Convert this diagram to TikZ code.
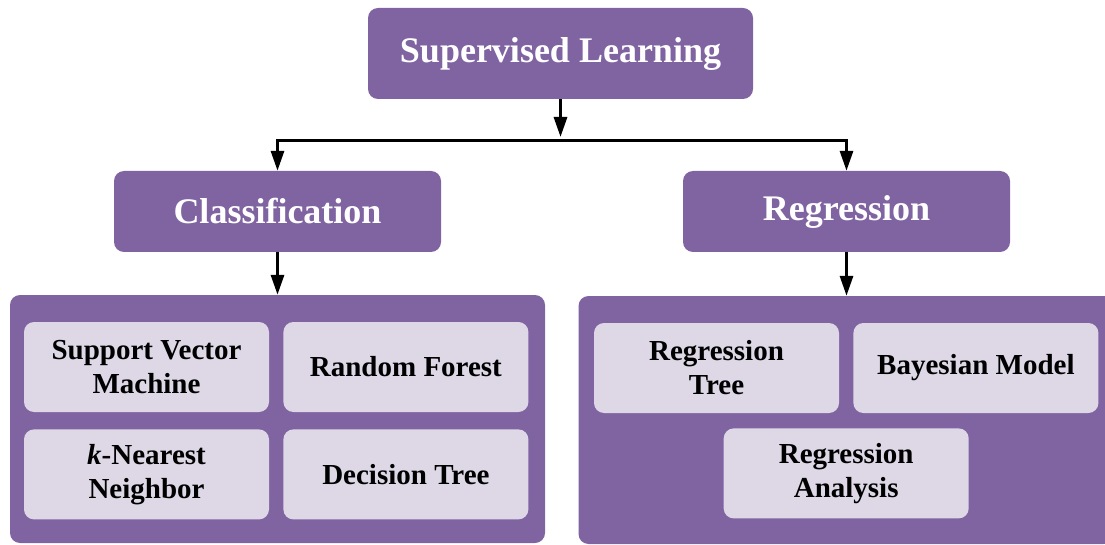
\documentclass[tikz,border=0pt]{standalone}
\usepackage{fontspec}
\setmainfont{Liberation Serif}
\usetikzlibrary{arrows.meta,positioning}
\definecolor{plum}{RGB}{128,100,162}
\definecolor{lilac}{RGB}{221,215,230}
\tikzstyle{topbox} = [fill=plum, rounded corners=10pt, text=white,
    minimum width=385pt, minimum height=91pt, font=\fontsize{36}{40}\selectfont\bfseries]
\tikzstyle{catbox} = [fill=plum, rounded corners=10pt, text=white,
    minimum width=327pt, minimum height=81pt, font=\fontsize{36}{40}\selectfont\bfseries]
\tikzstyle{panel} = [fill=plum, rounded corners=10pt, minimum width=535pt, minimum height=248pt]
\tikzstyle{method} = [fill=lilac, rounded corners=10pt, align=center, inner sep=0pt,
    minimum width=245pt, minimum height=90pt, font=\fontsize{29}{34}\selectfont\bfseries]
\tikzstyle{arr} = [-{Triangle[length=20pt,width=13pt]}, line width=3pt]

\begin{document}
\begin{tikzpicture}[x=1pt, y=1pt, node distance=14pt]
    \useasboundingbox (0,0) rectangle (1105,-545);
    \node [topbox] (sup) at (560.5,-53.5) {Supervised Learning};
    \node [catbox, below of=sup, xshift=-283pt, node distance=158pt] (clas) {Classification};
    \node [catbox, right of=clas, node distance=569pt] (reg) {Regression};
    \node [panel, below of=clas, node distance=207.5pt] (lpanel) {};
    \node [panel, below of=reg, node distance=208.5pt, xshift=-0.5pt] (rpanel) {};
    % classification methods
    \node [method, below right=27pt and 14pt of lpanel.north west, anchor=north west] (svm) {Support Vector\\Machine};
    \node [method, right=of svm] (rf) {Random Forest};
    \node [method, below=17pt of svm] (knn) {\textit{k}-Nearest\\Neighbor};
    \node [method, right=of knn] (dt) {Decision Tree};
    % regression methods
    \node [method, below right=27pt and 15.5pt of rpanel.north west, anchor=north west] (rtree) {Regression\\Tree};
    \node [method, right=of rtree] (bayes) {Bayesian Model};
    \node [method, below=15pt of rtree.south east, anchor=north, xshift=7pt] (ranal) {Regression\\Analysis};
    \coordinate (fork) at (560.5,-141);
    \draw [arr] (sup) -- ([yshift=4pt]fork);
    \draw [arr, -{Triangle[length=20pt,width=13pt]}] (fork) -| (clas.north);
    \draw [arr] (fork) -| (reg.north);
    \draw [arr] (clas) -- (lpanel.north);
    \draw [arr] (reg) -- (reg |- rpanel.north);
\end{tikzpicture}
\end{document}
